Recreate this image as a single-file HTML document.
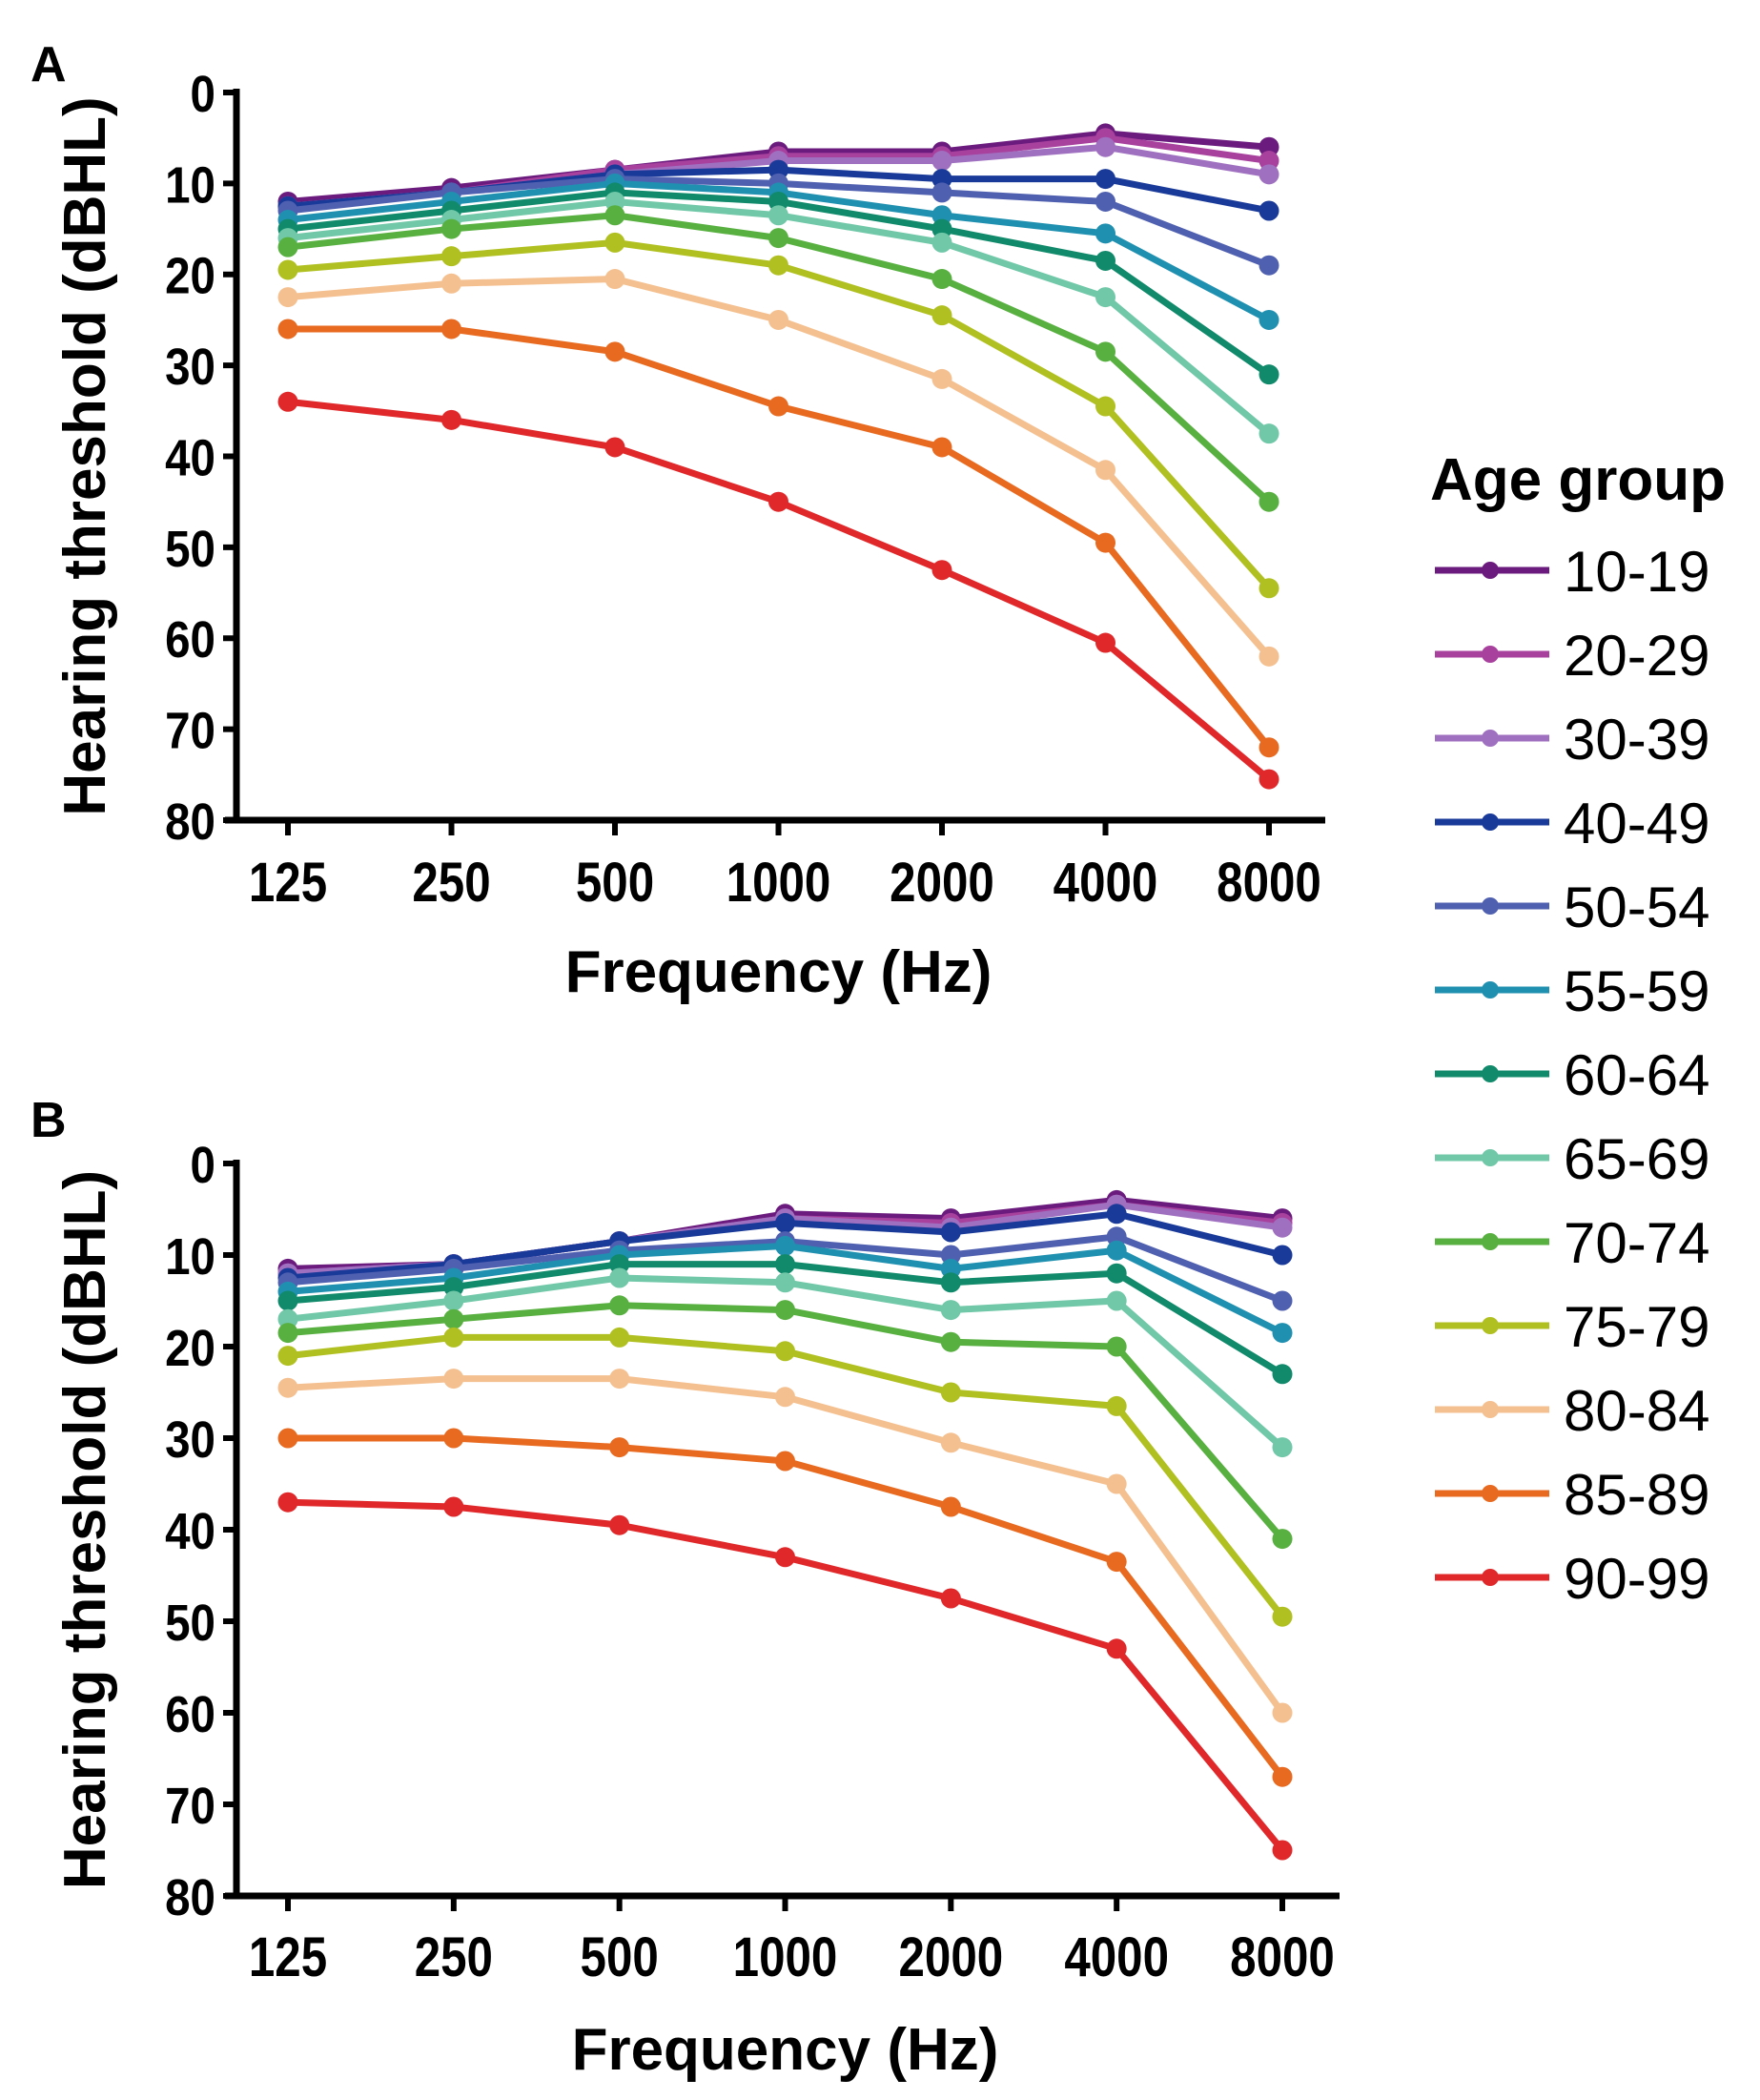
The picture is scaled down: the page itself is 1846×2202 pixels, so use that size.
<!DOCTYPE html>
<html><head><meta charset="utf-8"><style>
html,body{margin:0;padding:0;background:#fff;}
svg{display:block;font-family:"Liberation Sans",Arial,sans-serif;}
</style></head><body>
<svg id="chart" width="1846" height="2202" viewBox="0 0 1846 2202" xmlns="http://www.w3.org/2000/svg"></svg>
<script>
const freqs = ["125","250","500","1000","2000","4000","8000"];
const groups = ["10-19","20-29","30-39","40-49","50-54","55-59","60-64","65-69","70-74","75-79","80-84","85-89","90-99"];
const yTicks = [0,10,20,30,40,50,60,70,80];
const colors = ["#6a1b7d","#a8409e","#a070c0","#1a3a9a","#5060b0","#2090b0","#108a6a","#70c8a8","#58b040","#b0c020","#f5c090","#e86a20","#e0282a"];
const panelA = [
 [12,10.5,8.5,6.5,6.5,4.5,6],
 [12.5,11,8.5,7,7,5,7.5],
 [12.5,11,9,7.5,7.5,6,9],
 [12.5,11,9,8.5,9.5,9.5,13],
 [13,11,9.5,10,11,12,19],
 [14,12,10,11,13.5,15.5,25],
 [15,13,11,12,15,18.5,31],
 [16,14,12,13.5,16.5,22.5,37.5],
 [17,15,13.5,16,20.5,28.5,45],
 [19.5,18,16.5,19,24.5,34.5,54.5],
 [22.5,21,20.5,25,31.5,41.5,62],
 [26,26,28.5,34.5,39,49.5,72],
 [34,36,39,45,52.5,60.5,75.5]
];
const panelB = [
 [11.5,11,8.5,5.5,6,4,6],
 [12,11,8.5,6,6.5,4.5,6.5],
 [12,11,8.5,6,7,4.5,7],
 [12.5,11,8.5,6.5,7.5,5.5,10],
 [13,11.5,9.5,8.5,10,8,15],
 [14,12.5,10,9,11.5,9.5,18.5],
 [15,13.5,11,11,13,12,23],
 [17,15,12.5,13,16,15,31],
 [18.5,17,15.5,16,19.5,20,41],
 [21,19,19,20.5,25,26.5,49.5],
 [24.5,23.5,23.5,25.5,30.5,35,60],
 [30,30,31,32.5,37.5,43.5,67],
 [37,37.5,39.5,43,47.5,53,75]
];
const NS="http://www.w3.org/2000/svg";
const svg=document.getElementById('chart');
function mk(tag,attrs,parent,text){const e=document.createElementNS(NS,tag);for(const k in attrs)e.setAttribute(k,attrs[k]);if(text!==undefined)e.textContent=text;(parent||svg).appendChild(e);return e;}

function panel(key,letter,data,cfg){
  const g=mk('g',{});
  
  
  const xS=i=>cfg.x0+i*(cfg.x1-cfg.x0)/(freqs.length-1);
  const yS=v=>cfg.y0+v*(cfg.y80-cfg.y0)/80;
  const lt=mk('text',{x:cfg.lx,y:cfg.ly,'font-size':52,'font-weight':'bold'},g,letter);
  
  
  const ya=mk('line',{x1:cfg.ax,y1:cfg.y0-4,x2:cfg.ax,y2:cfg.y80+3,stroke:'#000','stroke-width':7},g);
  
  
  const xa=mk('line',{x1:cfg.ax-12,y1:cfg.y80,x2:cfg.xend,y2:cfg.y80,stroke:'#000','stroke-width':7},g);
  
  
  yTicks.forEach(t=>{
    mk('line',{x1:cfg.ax-14,y1:yS(t),x2:cfg.ax,y2:yS(t),stroke:'#000','stroke-width':6},g);
    const tl=mk('text',{x:cfg.ax-22,y:yS(t)+20,'font-size':54,'font-weight':'bold','text-anchor':'end',transform:`translate(${cfg.ax-22},0) scale(0.88,1) translate(${-(cfg.ax-22)},0)`},g,String(t));
    
    
  });
  freqs.forEach((f,i)=>{
    mk('line',{x1:xS(i),y1:cfg.y80,x2:xS(i),y2:cfg.y80+16,stroke:'#000','stroke-width':6},g);
    const tl=mk('text',{x:xS(i),y:cfg.ty,'font-size':58,'font-weight':'bold','text-anchor':'middle',transform:`translate(${xS(i)},0) scale(0.85,1) translate(${-xS(i)},0)`},g,f);
    
    
  });
  const xt=mk('text',{x:(cfg.x0+cfg.x1)/2,y:cfg.xty,'font-size':62,'font-weight':'bold','text-anchor':'middle'},g,'Frequency (Hz)');
  
  
  const cy=(cfg.y0+cfg.y80)/2;
  const yt=mk('text',{x:0,y:0,'font-size':62,'font-weight':'bold','text-anchor':'middle',transform:`translate(${cfg.ytx},${cy}) rotate(-90)`},g,'Hearing threshold (dBHL)');
  
  
  data.forEach((row,si)=>{
    const pts=row.map((v,i)=>xS(i)+','+yS(v)).join(' ');
    const pl=mk('polyline',{points:pts,fill:'none',stroke:colors[si],'stroke-width':7,'stroke-linejoin':'round'},g);
    
    
    row.forEach((v,i)=>{
      const c=mk('circle',{cx:xS(i),cy:yS(v),r:10.5,fill:colors[si]},g);
      
      
    });
  });
}
panel('a','A',panelA,{lx:32,ly:85,ax:248,x0:302,x1:1331,xend:1390,y0:97,y80:860,ty:945,xty:1040,ytx:110});
panel('b','B',panelB,{lx:32,ly:1192,ax:248,x0:302,x1:1345,xend:1405,y0:1220,y80:1988,ty:2072,xty:2170,ytx:110});

const lg=mk('g',{});


const lt=mk('text',{x:1500,y:524,'font-size':62,'font-weight':'bold'},lg,'Age group');


groups.forEach((gname,i)=>{
  const y=598+i*88;
  const e=mk('g',{},lg);
  
  
  mk('line',{x1:1505,y1:y,x2:1625,y2:y,stroke:colors[i],'stroke-width':7},e);
  mk('circle',{cx:1563,cy:y,r:9,fill:colors[i]},e);
  mk('text',{x:1640,y:y+22,'font-size':60},e,gname);
});
</script>
</body></html>
